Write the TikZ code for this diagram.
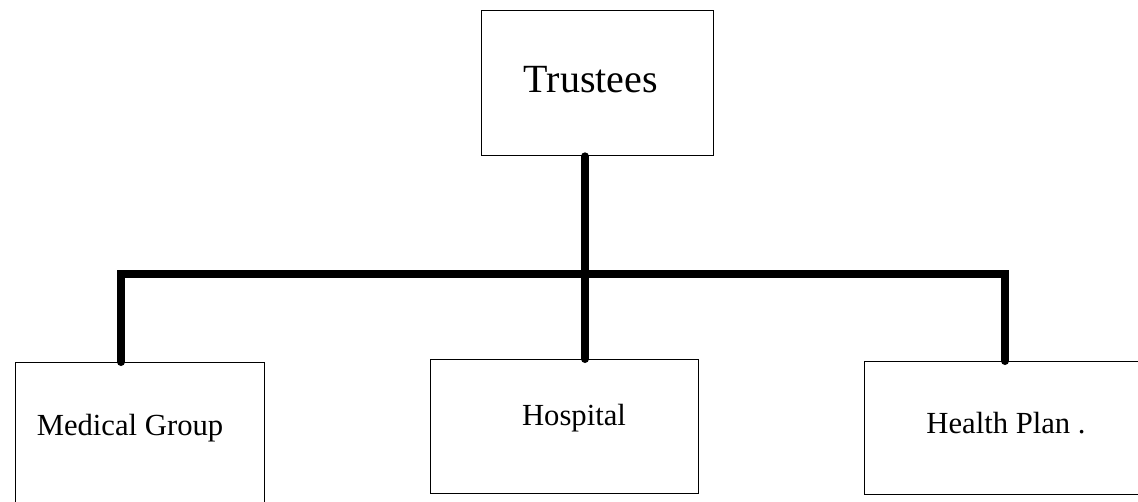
\documentclass[tikz,border=0pt]{standalone}
\usepackage{fontspec}
\setmainfont{Liberation Serif}
\tikzstyle{unit box}=[draw, line width=1pt, inner sep=0pt, anchor=north west]
\tikzstyle{unit label}=[inner sep=0pt, font=\fontsize{23}{26}\selectfont]
\tikzstyle{tie}=[line width=6pt, line cap=round]

\begin{document}
\begin{tikzpicture}[x=0.75pt, y=-0.75pt]
      \useasboundingbox (0, 0) rectangle (1138, 501);
      \node[unit box, minimum width=174pt, minimum height=108.75pt] (trustees) at (481, 10) {};
      \node[unit label, font=\fontsize{30}{34}\selectfont] (trusteestext) at (591, 80) {Trustees};
      \node[unit box, minimum width=186.75pt, minimum height=120pt] (medical) at (15, 362) {};
      \node[unit label] (medicaltext) at (130, 428) {Medical Group};
      \node[unit box, minimum width=201pt, minimum height=100.5pt] (hospital) at (430, 359) {};
      \node[unit label] (hospitaltext) at (574, 418) {Hospital};
      \node[unit box, minimum width=216pt, minimum height=99.75pt] (plan) at (864, 361) {};
      \node[unit label] (plantext) at (1006, 423) {Health Plan .};
      \coordinate (top) at (585, 274);
      \coordinate (left) at (121, 274);
      \coordinate (right) at (1005, 274);
      \draw[tie] (trustees.south -| top) -- (top);
      \draw[tie] (medical.north -| left) -- (left) -- (right) -- (plan.north -| right);
      \draw[tie] (top) -- (hospital.north -| top);
    \end{tikzpicture}
\end{document}
